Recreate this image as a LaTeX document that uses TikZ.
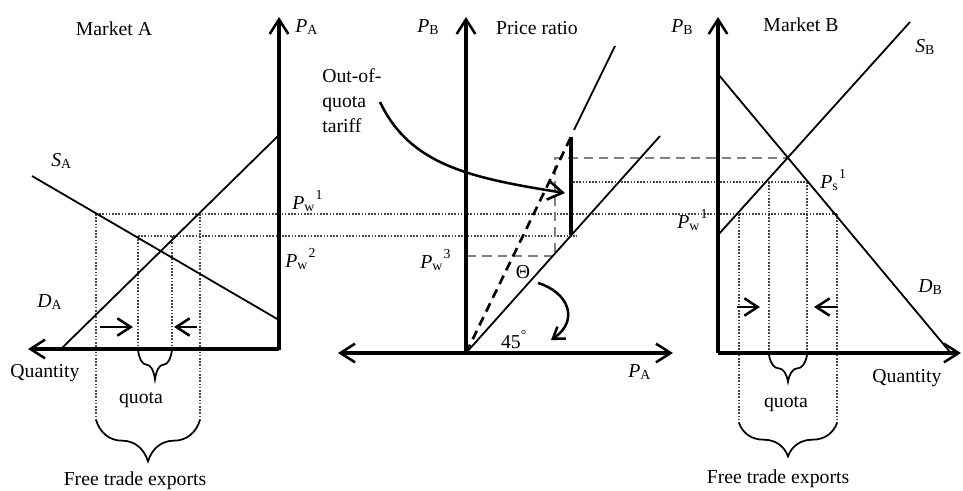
\documentclass[tikz,border=0pt]{standalone}
\usepackage{fontspec}
\setmainfont{Liberation Serif}
\usetikzlibrary{arrows.meta,decorations.pathreplacing}
\newcommand{\lbl}[2]{\textit{#1}\textsubscript{#2}}
\newcommand{\lbls}[3]{\textit{#1}\textsubscript{#2}\kern0.5pt\raisebox{2pt}{\textsuperscript{#3}}}
\begin{document}
\begin{tikzpicture}[x=0.75pt,y=-0.75pt,
  font=\fontsize{14.8}{17.5}\selectfont,
  tip/.style={-{Straight Barb[length=11pt,width=14pt,line width=1.9pt]}},
  axis/.style={line width=2.3pt, tip},
  curve/.style={line width=1.35pt},
  dots/.style={draw=black!72, line width=1.8pt, dash pattern=on 1.2pt off 1.2pt},
  gdash/.style={draw=black!50, line width=2.2pt, dash pattern=on 7pt off 4.5pt},
  bdash/.style={line width=2pt, dash pattern=on 7pt off 4.5pt},
  smallarrow/.style={line width=1.9pt, -{Straight Barb[length=10pt,width=13pt,line width=1.9pt]}},
  brc/.style={line width=1.3pt, decorate, decoration={brace, mirror, amplitude=#1}},
  txt/.style={inner sep=0pt, anchor=base},
  lab/.style={inner sep=0pt, anchor=base west}
]
\useasboundingbox (0,0) rectangle (963,490);

% ---------- dotted guide lines ----------
\coordinate (w1L) at (96,214);  \coordinate (w1R) at (837,214);
\coordinate (w2L) at (138,236); \coordinate (w2R) at (577,236);
\coordinate (s1L) at (573,182); \coordinate (s1R) at (807,182);
\draw[dots] (w1L) -- (w1R);
\draw[dots] (w2L) -- (w2R);
\draw[dots] (s1L) -- (s1R);
\coordinate (la) at (96,420);  \coordinate (lb) at (200,420);
\coordinate (lc) at (138,349); \coordinate (ld) at (172,349);
\draw[dots] (w1L) -- (la);
\draw[dots] (200,214) -- (lb);
\draw[dots] (w2L) -- (lc);
\draw[dots] (172,236) -- (ld);
\coordinate (ra) at (739,423); \coordinate (rb) at (837,423);
\coordinate (rc) at (769,353); \coordinate (rd) at (807,353);
\draw[dots] (739,214) -- (ra);
\draw[dots] (w1R) -- (rb);
\draw[dots] (769,182) -- (rc);
\draw[dots] (s1R) -- (rd);

% ---------- gray dashed ----------
\coordinate (g1) at (467,256); \coordinate (g2) at (555,256);
\coordinate (g3) at (555,158); \coordinate (g4) at (788,158);
\draw[gdash] (g1) -- (g2) -- (g3) -- (g4);

% ---------- Market A ----------
\coordinate (OA) at (279,349);
\draw[axis] (279,350) -- (279,17);
\draw[axis] (OA) -- (28,349);
\draw[curve] (32,176) -- (279,320);
\draw[curve] (62,348) -- (279,135);
\draw[smallarrow] (100,327) -- (133,327);
\draw[smallarrow] (197,327) -- (174,327);
\draw[brc=22pt] (138,350) -- (172,350);
\draw[brc=31pt] (96,420) -- (200,420);

\node[txt] (mA) at (114,35) {Market A};
\node[lab] (pA) at (295,32) {\lbl{P}{A}};
\node[lab] (sA) at (51,166) {\lbl{S}{A}};
\node[lab] (dA) at (37,307) {\lbl{D}{A}};
\node[lab] (pw1) at (292,209) {\lbls{P}{w}{1}};
\node[lab] (pw2) at (285,267) {\lbls{P}{w}{2}};
\node[txt] (qA) at (45,377) {Quantity};
\node[txt] (quA) at (141,403) {quota};
\node[txt] (fA) at (135,485) {Free trade exports};

% ---------- Price ratio ----------
\coordinate (O) at (466,353);
\draw[axis] (O) -- (466,17);
\draw[line width=2.3pt, {Straight Barb[length=11pt,width=14pt,line width=1.9pt]}-{Straight Barb[length=11pt,width=14pt,line width=1.9pt]}] (338,353) -- (673,353);
\coordinate (l45) at (660,136);
\draw[curve] (O) -- (l45);
\coordinate (bt) at (571,137); \coordinate (bb) at (571,235);
\draw[bdash] (O) -- (bt);
\draw[curve] (574,130) -- (615,46);
\draw[line width=3.2pt] (bt) -- (bb);
\coordinate (tf) at (380,102); \coordinate (tt) at (565,193);
\draw[line width=1.9pt, -{Straight Barb[length=11pt,width=14pt,line width=1.9pt]}]
  (tf) .. controls (410,165) and (470,178) .. (tt);
\coordinate (af) at (538,283); \coordinate (at45) at (551,340);
\draw[line width=1.9pt, -{Straight Barb[length=8pt,width=11pt,line width=1.9pt]}]
  (af) .. controls (568,292) and (580,320) .. (at45);

\node[lab] (pB1) at (417,32) {\lbl{P}{B}};
\node[txt] (pr) at (537,34) {Price ratio};
\node[lab] (oq1) at (322,82) {Out-of-};
\node[lab] (oq2) at (322,107) {quota};
\node[lab] (oq3) at (322,132) {tariff};
\node[lab] (pw3) at (420,268) {\lbls{P}{w}{3}};
\node[txt] (th) at (523,278) {Θ};
\node[txt] (d45) at (514,348) {45\raisebox{1pt}{\textsuperscript{°}}};
\node[lab] (pA2) at (628,377) {\lbl{P}{A}};

% ---------- Market B ----------
\coordinate (OB) at (718,353);
\draw[axis] (OB) -- (718,17);
\draw[axis] (OB) -- (961,353);
\draw[curve] (718,235) -- (910,22);
\draw[curve] (718,74) -- (950,352);
\draw[smallarrow] (737,307) -- (760,307);
\draw[smallarrow] (838,307) -- (814,307);
\draw[brc=20pt] (769,355) -- (807,355);
\draw[brc=25pt] (739,423) -- (837,423);

\node[txt] (mB) at (801,31) {Market B};
\node[lab] (pB2) at (671,32) {\lbl{P}{B}};
\node[lab] (sB) at (915,52) {\lbl{S}{B}};
\node[lab] (dB) at (918,292) {\lbl{D}{B}};
\node[lab] (ps1) at (820,188) {\lbls{P}{s}{1}};
\node[lab] (pw1b) at (677,228) {\lbls{P}{w}{1}};
\node[txt] (qB) at (907,382) {Quantity};
\node[txt] (quB) at (786,407) {quota};
\node[txt] (fB) at (778,483) {Free trade exports};
\end{tikzpicture}
\end{document}
